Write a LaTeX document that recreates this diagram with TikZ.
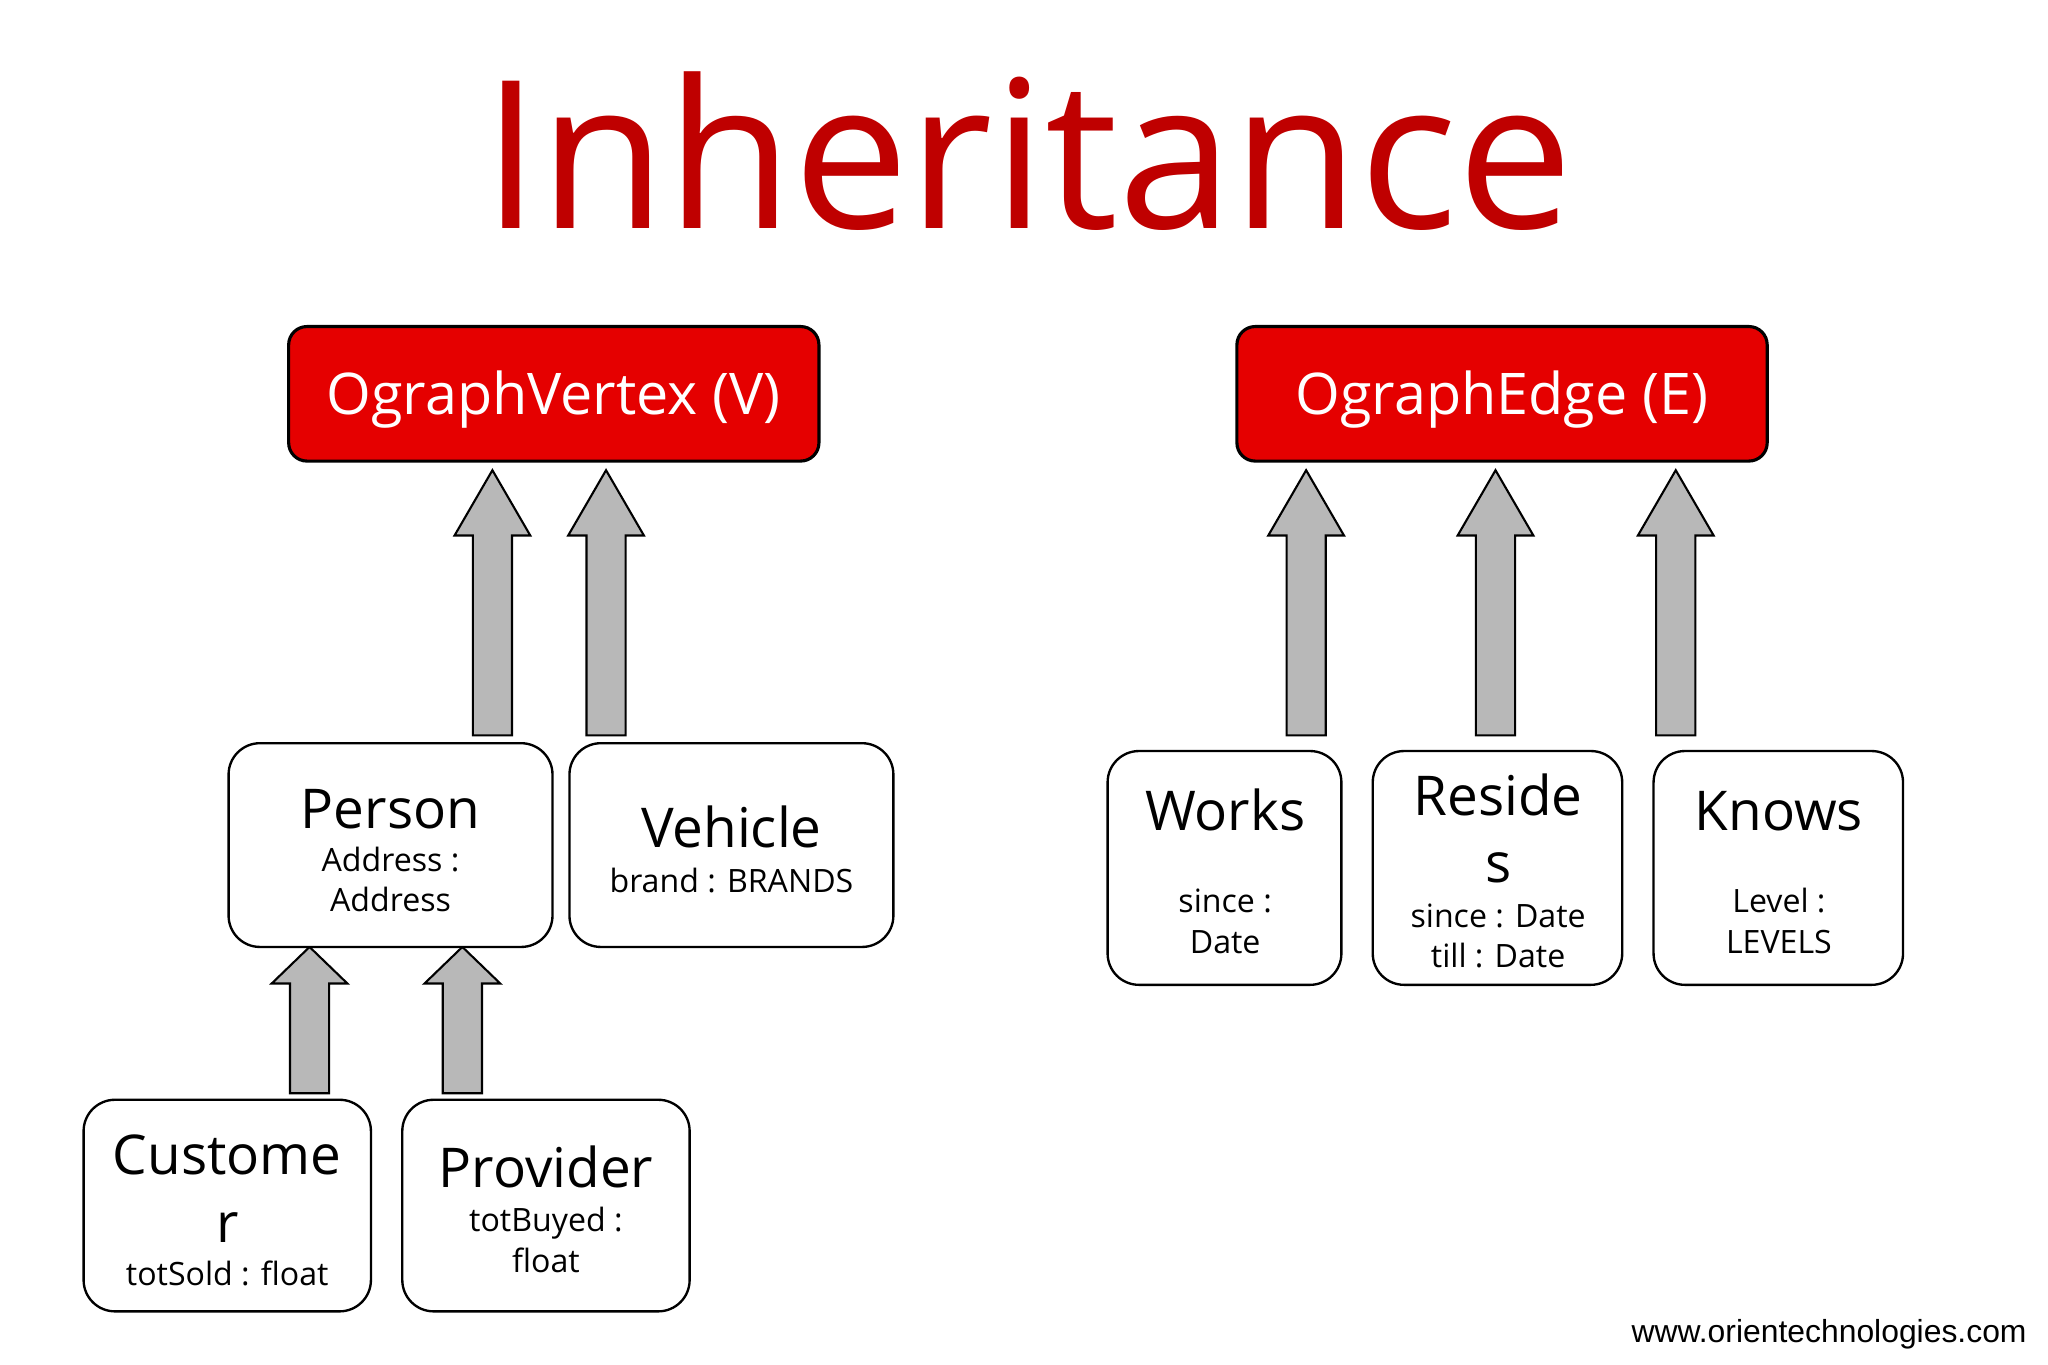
\documentclass[tikz,border=0pt]{standalone}
\usepackage{fontspec}
\setmainfont{Open Sans}
\newfontfamily\urlfont{Liberation Sans}
\begin{document}
\begin{tikzpicture}[x=0.5pt,y=-0.5pt,
  redbox/.style={draw=black,line width=1.2pt,fill=red!90!black,rounded corners=7pt,inner sep=0pt},
  whitebox/.style={draw=black,line width=0.9pt,fill=white,rounded corners=12pt,inner sep=0pt},
  big/.style={anchor=base,inner sep=0pt,font=\fontsize{21}{26}\selectfont},
  small/.style={anchor=base,inner sep=0pt,font=\fontsize{12.3}{15}\selectfont},
  blockarrow/.style={draw=black,line width=0.8pt,fill=black!28}]
\useasboundingbox (0,0) rectangle (1568,1045);
\newcommand\blockarr[4]{% cx, ybottom, ytop, headlen
  \filldraw[blockarrow] (#1-15,#2) -- (#1-15,#3+#4) -- (#1-29,#3+#4) -- (#1,#3) -- (#1+29,#3+#4) -- (#1+15,#3+#4) -- (#1+15,#2) -- cycle;}
\node[anchor=base,inner sep=0pt,text=red!75!black,font=\fontsize{79}{85}\selectfont] (title) at (787,175) {Inheritance};
% top boxes
\draw[redbox] (221,250) rectangle (627,353);
\node[anchor=base,text=white,inner sep=0pt,font=\fontsize{22}{26}\selectfont] (V) at (424,317) {OgraphVertex (V)};
\draw[redbox] (947,250) rectangle (1353,353);
\node[anchor=base,text=white,inner sep=0pt,font=\fontsize{22}{26}\selectfont] (E) at (1150,317) {OgraphEdge (E)};
% arrows
\blockarr{377}{563}{360}{50}
\blockarr{464}{563}{360}{50}
\blockarr{1000}{563}{360}{50}
\blockarr{1145}{563}{360}{50}
\blockarr{1283}{563}{360}{50}
\blockarr{237}{837}{725}{28}
\blockarr{354}{837}{725}{28}
% white boxes
\draw[whitebox] (175,569) rectangle (423,725);
\node[big] (person) at (299,634) {Person};
\node[small] at (299,667) {Address :};
\node[small] at (299,698) {Address};
\draw[whitebox] (436,569) rectangle (684,725);
\node[big] (vehicle) at (560,649) {Vehicle};
\node[small] at (560,683) {brand : BRANDS};
\draw[whitebox] (64,842) rectangle (284,1004);
\node[big] (customer) at (174,899) {Custome};
\node[big] at (174,951) {r};
\node[small] at (174,984) {totSold : float};
\draw[whitebox] (308,842) rectangle (528,1004);
\node[big] (provider) at (418,909) {Provider};
\node[small] at (418,943) {totBuyed :};
\node[small] at (418,974) {float};
\draw[whitebox] (848,575) rectangle (1027,754);
\node[big] (works) at (938,636) {Works};
\node[small] at (938,699) {since :};
\node[small] at (938,730) {Date};
\draw[whitebox] (1051,575) rectangle (1242,754);
\node[big] (resides) at (1147,624) {Reside};
\node[big] at (1147,676) {s};
\node[small] at (1147,710) {since : Date};
\node[small] at (1147,741) {till : Date};
\draw[whitebox] (1266,575) rectangle (1457,754);
\node[big] (knows) at (1362,636) {Knows};
\node[small] at (1362,699) {Level :};
\node[small] at (1362,730) {LEVELS};
\node[anchor=base east,inner sep=0pt,font=\urlfont\fontsize{12.2}{14}\selectfont] (url) at (1552,1028) {www.orientechnologies.com};
\end{tikzpicture}
\end{document}
